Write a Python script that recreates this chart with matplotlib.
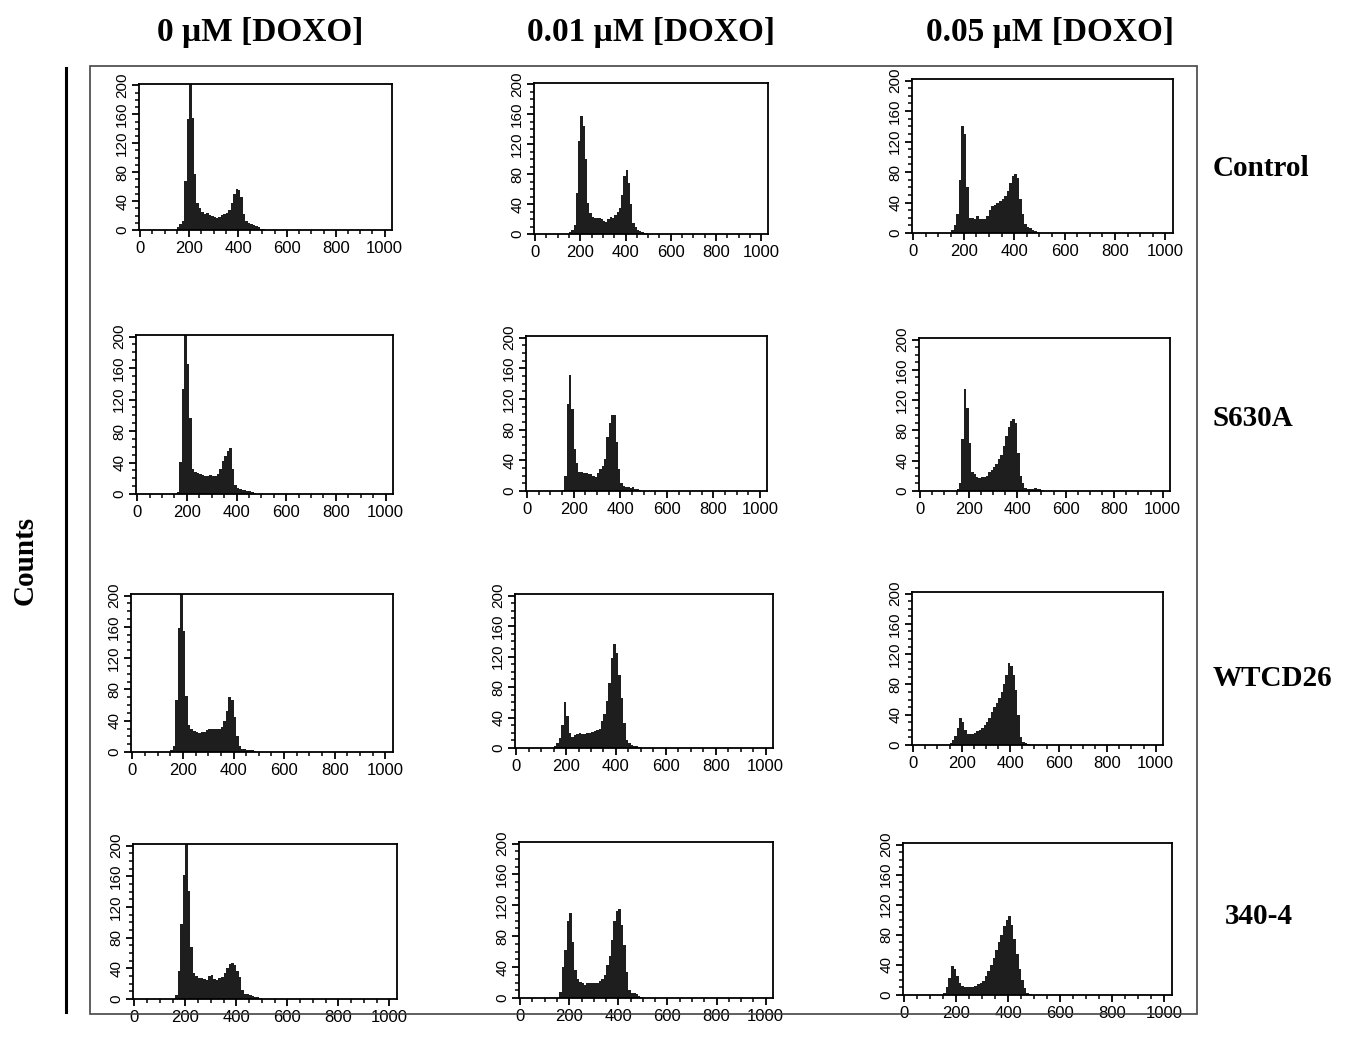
import matplotlib
matplotlib.use("Agg")
import matplotlib.pyplot as plt
import numpy as np
from matplotlib.ticker import MultipleLocator
from matplotlib.lines import Line2D
from matplotlib.patches import Rectangle

W, H = 1352, 1042
plt.rcParams.update({"font.family": "Liberation Sans", "font.size": 10})

# ---- DNA content histograms (channel bins of 10, left edges 140..510) ----
BIN_EDGES = np.arange(140, 530, 10)

COL_TITLES = ["0 μM [DOXO]", "0.01 μM [DOXO]", "0.05 μM [DOXO]"]
ROW_LABELS = ["Control", "S630A", "WTCD26", "340-4"]

CTRL_0   = [0,4,8,12,68,153,210,155,78,37, 30,25,22,23,21,20,18,17,18,21,
            22,23,28,37,50,57,55,45,22,12, 9,8,7,6,4,2,1,0]
CTRL_001 = [0,3,6,12,55,125,158,145,100,42, 28,23,21,22,21,20,17,16,20,23,
            22,25,30,35,52,78,86,68,40,15, 9,6,4,3,1,1,0,0]
CTRL_005 = [0,4,10,25,70,140,130,60,20,20, 18,22,19,18,18,22,30,35,37,40,
            42,45,48,55,65,75,78,72,45,25, 12,8,6,4,2,1,0,0]
S630A_0   = [0,0,2,41,133,210,165,97,32,28, 27,25,24,23,23,24,23,23,25,32,
             42,48,55,58,32,12,8,6,5,5, 4,4,3,1,0,0,0,0]
S630A_001 = [0,1,20,114,151,107,55,36,25,25, 24,23,22,22,20,18,24,29,32,42,
             70,88,99,99,64,29,10,6,5,5, 4,5,3,2,1,0,0,0]
S630A_005 = [0,3,10,69,135,110,63,25,22,18, 17,18,18,20,25,28,32,36,42,48,
             60,72,85,92,95,90,50,20,10,4, 3,3,3,4,3,2,1,0]
WTCD26_0   = [0,3,8,66,159,210,155,72,35,30, 27,25,24,25,26,28,30,30,29,30,
              30,32,40,52,70,66,45,20,8,4, 4,3,3,2,1,0,0,0]
WTCD26_001 = [0,3,6,13,30,60,42,20,14,17, 19,20,19,19,20,20,21,22,24,25,
              35,45,62,85,118,137,125,96,65,33, 10,6,4,3,2,1,0,0]
WTCD26_005 = [0,2,6,12,22,35,30,20,15,14, 14,16,18,20,22,26,30,36,44,50,
              55,62,70,80,92,108,104,92,73,40, 10,4,2,1,0,0,0,0]
M340_0   = [0,0,5,36,98,162,210,141,68,34, 30,28,27,26,25,30,31,26,25,28,
            29,34,40,46,47,44,36,29,12,7, 6,5,4,3,2,1,0,0]
M340_001 = [0,0,8,40,62,100,110,73,36,25, 21,20,17,19,20,20,20,20,22,25,
            30,43,55,75,100,113,115,95,69,34, 10,7,6,5,3,1,0,0]
M340_005 = [0,3,10,22,38,34,25,16,12,10, 10,11,10,12,15,16,18,25,32,40,
            49,60,70,80,92,100,105,93,75,55, 35,20,9,3,1,0,0,0]

GRID = [[CTRL_0, CTRL_001, CTRL_005],
        [S630A_0, S630A_001, S630A_005],
        [WTCD26_0, WTCD26_001, WTCD26_005],
        [M340_0, M340_001, M340_005]]

# panel boxes in pixels: (x0, y0, x1, y1), y from top (scanned layout is a bit uneven)
BOXES = [[(139, 84, 392, 230), (534, 83, 768, 234), (912, 79, 1173, 233)],
         [(136, 335, 393, 494), (526, 336, 767, 491), (919, 338, 1170, 491)],
         [(131, 594, 393, 752), (515, 594, 773, 748), (912, 592, 1163, 745)],
         [(133, 844, 397, 999), (519, 842, 773, 998), (903, 843, 1172, 995)]]

fig = plt.figure(figsize=(W/100, H/100), dpi=100)

for r in range(4):
    for c in range(3):
        x0, y0, x1, y1 = BOXES[r][c]
        ax = fig.add_axes([x0/W, 1 - y1/H, (x1-x0)/W, (y1-y0)/H])
        ax.stairs(GRID[r][c], BIN_EDGES, fill=True, color="#1e1e1e", baseline=0, lw=0)
        ax.set_xlim(-5, 1030); ax.set_ylim(0, 202)
        ax.xaxis.set_major_locator(MultipleLocator(200))
        ax.xaxis.set_minor_locator(MultipleLocator(50))
        ax.yaxis.set_major_locator(MultipleLocator(40))
        ax.yaxis.set_minor_locator(MultipleLocator(10))
        ax.tick_params(which="major", direction="out", length=5, width=1.3, pad=3)
        ax.tick_params(which="minor", direction="out", length=3, width=1.1)
        ax.tick_params(axis="x", labelsize=12)
        ax.tick_params(axis="y", labelsize=11, pad=2)
        for lab in ax.get_yticklabels():
            lab.set_rotation(90); lab.set_va("center")
        for s in ax.spines.values():
            s.set_linewidth(1.3)

serif = dict(family="Liberation Serif", fontweight="bold")
for t, xc in zip(COL_TITLES, [260, 651, 1050]):
    fig.text(xc/W, 1 - 32/H, t, ha="center", va="center", fontsize=24, **serif)
for t, (xl, yc) in zip(ROW_LABELS, [(1213, 168), (1212, 418), (1213, 678), (1225, 917)]):
    fig.text(xl/W, 1 - yc/H, t, ha="left", va="center", fontsize=21, **serif)
fig.text(25/W, 1 - 560/H, "Counts", rotation=90, ha="center", va="center", fontsize=21, **serif)

# frame: thick left rule and thin box round the panels
fig.add_artist(Line2D([66/W, 66/W], [1 - 68/H, 1 - 1012/H], color="black", lw=2.2))
fig.add_artist(Rectangle((90/W, 1 - 1014/H), (1197-90)/W, (1014-66)/H,
                         fill=False, edgecolor="#444444", lw=1.2))

fig.savefig("out.png", dpi=100)
